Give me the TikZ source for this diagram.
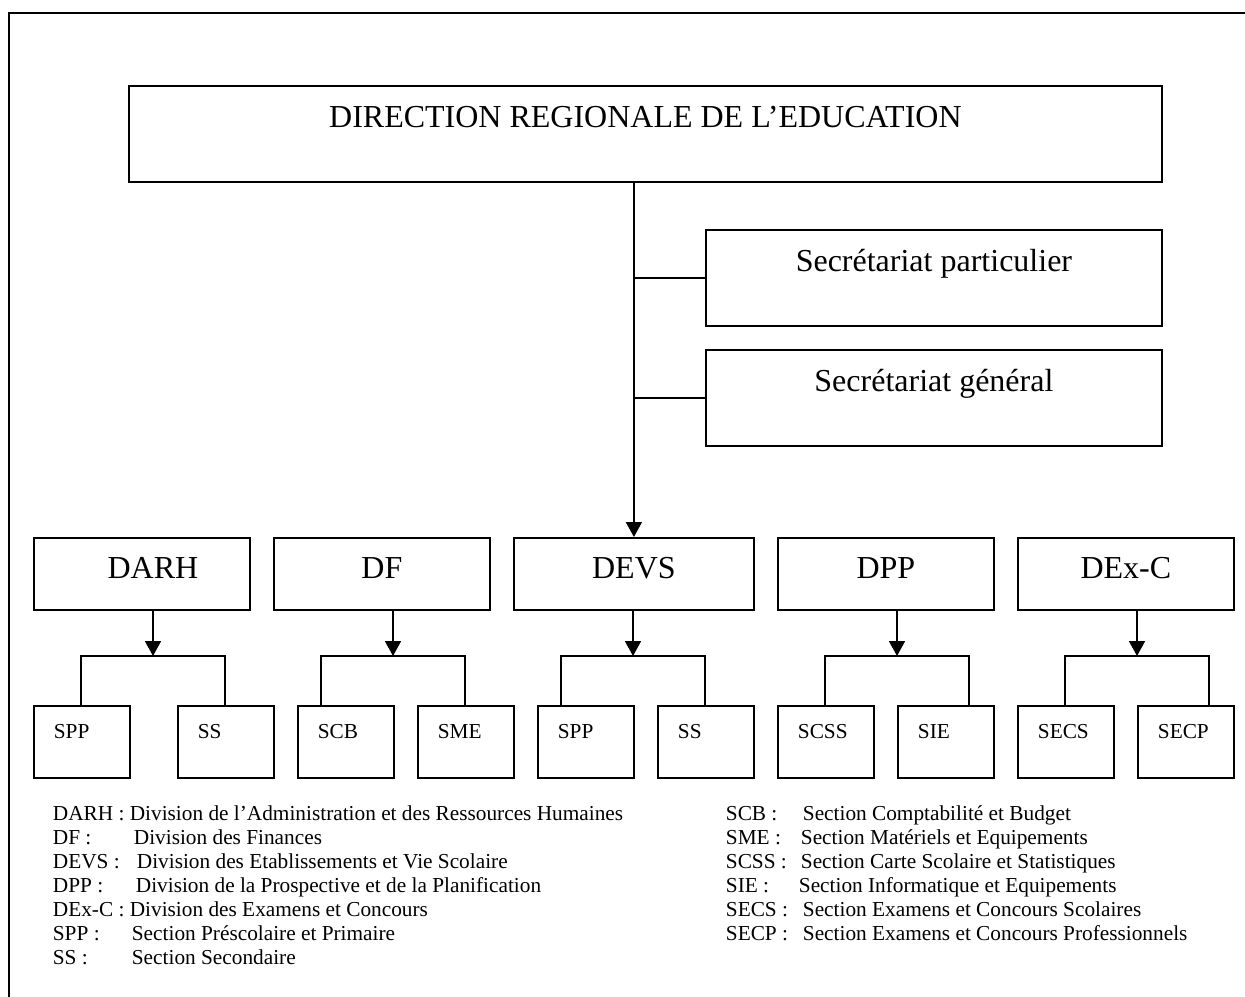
\documentclass[tikz,border=0pt]{standalone}
\usepackage{fontspec}
\setmainfont{Liberation Serif}
\usetikzlibrary{arrows.meta}
\begin{document}
\begin{tikzpicture}[x=1pt, y=-1pt, line width=1.8pt,
  big/.style={font=\fontsize{32}{38}\selectfont},
  small/.style={font=\fontsize{21.3}{24}\selectfont},
  main box/.style={draw,rectangle,big,inner ysep=0pt,text height=42pt,text depth=54pt,anchor=north west},
  div box/.style={draw,rectangle,big,minimum width=216pt,inner ysep=0pt,text height=41pt,text depth=31pt,anchor=north west},
  sec box/.style={draw,rectangle,small,text width=56pt,inner xsep=20pt,align=left,inner ysep=0pt,text height=33pt,text depth=39pt,anchor=north west},
  arr/.style={-{Triangle[length=15pt,width=16pt]}},
  leg/.style={small,anchor=base west,inner sep=0pt}]
\useasboundingbox (0,0) rectangle (1245,996);
\draw (1250,13) -- (9,13) -- (9,1000);%frame
\node[main box,minimum width=1033pt] (dre) at (128,85) {DIRECTION REGIONALE DE L’EDUCATION};
\node[main box,minimum width=456pt] (sp) at (705,229) {Secrétariat particulier};
\node[main box,minimum width=456pt] (sg) at (705,349) {Secrétariat général};
\node[div box] (darh) at (33,537) {\hspace*{22pt}DARH};%1
\node[div box] (df) at (273,537) {DF};%2
\node[div box,minimum width=240pt] (devs) at (513,537) {DEVS};%3
\node[div box] (dpp) at (777,537) {DPP};%4
\node[div box] (dexc) at (1017,537) {DEx-C};%5
\node[sec box] (spp1) at (33,705) {SPP};
\node[sec box] (ss1) at (177,705) {SS};
\node[sec box] (scb) at (297,705) {SCB};
\node[sec box] (sme) at (417,705) {SME};
\node[sec box] (spp2) at (537,705) {SPP};
\node[sec box] (ss2) at (657,705) {SS};
\node[sec box] (scss) at (777,705) {SCSS};
\node[sec box] (sie) at (897,705) {SIE};
\node[sec box] (secs) at (1017,705) {SECS};
\node[sec box] (secp) at (1137,705) {SECP};
%\node[sec box] () at (,705) {};
\coordinate (t1) at (153,656); \coordinate (t1l) at (81,656); \coordinate (t1r) at (225,656);
\coordinate (t2) at (393,656); \coordinate (t2l) at (321,656); \coordinate (t2r) at (465,656);
\coordinate (t3) at (633,656); \coordinate (t3l) at (561,656); \coordinate (t3r) at (705,656);
\coordinate (t4) at (897,656); \coordinate (t4l) at (825,656); \coordinate (t4r) at (969,656);
\coordinate (t5) at (1137,656); \coordinate (t5l) at (1065,656); \coordinate (t5r) at (1209,656);
\draw[arr] (dre.south -| devs.north) -- (devs.north);
\draw (sp.west -| devs.north) -- (sp.west);
\draw (sg.west -| devs.north) -- (sg.west);
\draw[arr] (darh.south -| t1) -- (t1);
\draw (spp1.north -| t1l) -- (t1l) -- (t1r) -- (ss1.north -| t1r);
\draw[arr] (df.south -| t2) -- (t2);
\draw (scb.north -| t2l) -- (t2l) -- (t2r) -- (sme.north -| t2r);
\draw[arr] (devs.south -| t3) -- (t3);
\draw (spp2.north -| t3l) -- (t3l) -- (t3r) -- (ss2.north -| t3r);
\draw[arr] (dpp.south -| t4) -- (t4);
\draw (scss.north -| t4l) -- (t4l) -- (t4r) -- (sie.north -| t4r);
\draw[arr] (dexc.south -| t5) -- (t5);
\draw (secs.north -| t5l) -- (t5l) -- (t5r) -- (secp.north -| t5r);
%legend
\node[leg] (l1) at (52,820) {DARH : Division de l’Administration et des Ressources Humaines};
\node[leg] (l2) at (52,844) {DF :};
\node[leg] (d2) at (133,844) {Division des Finances};
\node[leg] (l3) at (52,868) {DEVS :};
\node[leg] (d3) at (136,868) {Division des Etablissements et Vie Scolaire};
\node[leg] (l4) at (52,892) {DPP :};
\node[leg] (d4) at (135,892) {Division de la Prospective et de la Planification};
\node[leg] (l5) at (52,916) {DEx-C : Division des Examens et Concours};
\node[leg] (l6) at (52,940) {SPP :};
\node[leg] (d6) at (131,940) {Section Préscolaire et Primaire};
\node[leg] (l7) at (52,964) {SS :};
\node[leg] (d7) at (131,964) {Section Secondaire};
\node[leg] (l8) at (725,820) {SCB :};
\node[leg] (d8) at (802,820) {Section Comptabilité et Budget};
\node[leg] (l9) at (725,844) {SME :};
\node[leg] (d9) at (800,844) {Section Matériels et Equipements};
\node[leg] (l10) at (725,868) {SCSS :};
\node[leg] (d10) at (800,868) {Section Carte Scolaire et Statistiques};
\node[leg] (l11) at (725,892) {SIE :};
\node[leg] (d11) at (798,892) {Section Informatique et Equipements};
\node[leg] (l12) at (725,916) {SECS :};
\node[leg] (d12) at (802,916) {Section Examens et Concours Scolaires};
\node[leg] (l13) at (725,940) {SECP :};
\node[leg] (d13) at (802,940) {Section Examens et Concours Professionnels};
\end{tikzpicture}
\end{document}
